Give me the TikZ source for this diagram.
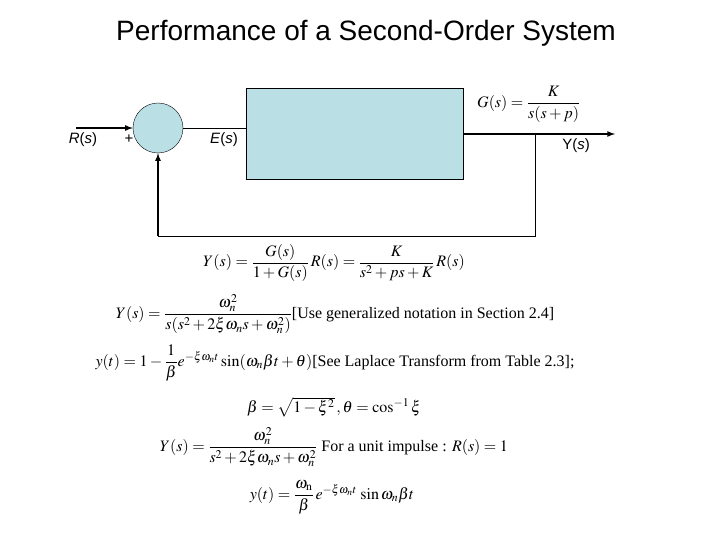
\documentclass[tikz,border=0pt]{standalone}
\usepackage{amsmath}
\usepackage{mathptmx}
\usepackage[no-math]{fontspec}
\setmainfont{Liberation Serif}
\newfontfamily\arialfont{Liberation Sans}
\usetikzlibrary{positioning}
\definecolor{blockfill}{RGB}{186,224,230}

\tikzset{
    lbl/.style={font=\arialfont\fontsize{15}{17}\selectfont},
    eqn/.style={font=\fontsize{16}{19}\selectfont, inner sep=0pt},
    sig/.style={line width=1.6pt},
}

\begin{document}
\begin{tikzpicture}[x=1pt, y=-1pt, >=latex]
    \useasboundingbox (0,0) rectangle (720,540);

    % Title
    \node[font=\arialfont\fontsize{28}{32}\selectfont] (title) at (366,33) {Performance of a Second-Order System};

    % Summing junction and plant block
    \node[circle, draw, fill=blockfill, minimum size=50pt, inner sep=0pt] (sum) at (158,128) {};
    \node[draw, fill=blockfill, minimum width=217pt, minimum height=91pt, inner sep=0pt, anchor=north west] (plant) at (246,88) {};
    \node[eqn, anchor=west] (gs) at (477,104) {$G(s)=\dfrac{K}{s(s+p)}$};

    % Signals
    \coordinate (rin) at (76,128);
    \coordinate (yout) at (615,134);
    \coordinate (branch) at (535,134);
    \coordinate (fbr) at (535,236);
    \coordinate (fbl) at (158,236);
    \draw[sig, ->] (rin) -- (sum.west);
    \draw (sum.east) -- (plant.west |- sum.east);
    \draw[sig, ->] (plant.east |- yout) -- (yout);
    \draw (branch) -- (fbr) -- (fbl);
    \draw[sig, ->] (fbl) -- (sum.south);

    % Labels
    \node[lbl] (rlbl) at (83,140) {\textit{R}(\textit{s})};
    \node[lbl] (plus) at (129,139) {+};
    \node[lbl] (elbl) at (224,140) {\textit{E}(\textit{s})};
    \node[lbl] (ylbl) at (576,146) {Y(\textit{s})};

    % Equations
    \node[eqn] (eq1) at (334,263) {$Y(s)=\dfrac{G(s)}{1+G(s)}\,R(s)=\dfrac{K}{s^2+ps+K}\,R(s)$};
    \node[eqn] (eq2) at (335,314) {$Y(s)=\dfrac{\omega_n^2}{s(s^2+2\xi\omega_n s+\omega_n^2)}$[Use generalized notation in Section 2.4]};
    \node[eqn] (eq3) at (335,363) {$y(t)=1-\dfrac{1}{\beta}e^{-\xi\omega_n t}\sin(\omega_n\beta t+\theta)$[See Laplace Transform from Table 2.3];};
    \node[eqn] (eq4) at (334,407) {$\beta=\sqrt{1-\xi^2}\,,\theta=\cos^{-1}\xi$};
    \node[eqn] (eq5) at (334,447) {$Y(s)=\dfrac{\omega_n^2}{s^2+2\xi\omega_n s+\omega_n^2}$ For a unit impulse : $R(s)=1$};
    \node[eqn] (eq6) at (332,497) {$y(t)=\dfrac{\omega_\mathrm{n}}{\beta}\,e^{-\xi\omega_n t}\,\sin\omega_n\beta t$};
\end{tikzpicture}
\end{document}
